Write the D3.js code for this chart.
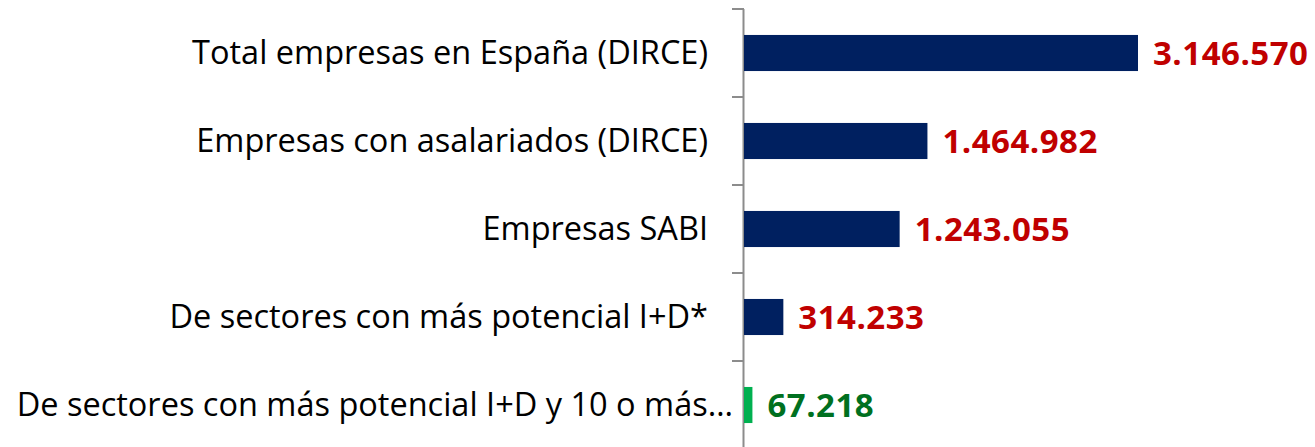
<!DOCTYPE html>
<html>
<head>
<meta charset="utf-8">
<script src="https://cdn.jsdelivr.net/npm/d3@7"></script>
<style>
  html, body { margin: 0; padding: 0; background: #fff; }
  svg { display: block; }
</style>
</head>
<body>
<div id="chart"></div>
<script>
// Datos
const categories = [
    'Total empresas en España (DIRCE)',
    'Empresas con asalariados (DIRCE)',
    'Empresas SABI',
    'De sectores con más potencial I+D*',
    'De sectores con más potencial I+D y 10 o más…'
];
const values      = [3146570, 1464982, 1243055, 314233, 67218];
const valueLabels = ['3.146.570', '1.464.982', '1.243.055', '314.233', '67.218'];
const highlight   = [false, false, false, false, true];

const W = 1315, H = 447;
const axisX = 744;

const svg = d3.select('#chart').append('svg')
    .attr('width', W)
    .attr('height', H)
    .style('font-family', '"Open Sans", sans-serif');

// escalas
const y = d3.scaleBand()
    .domain(categories)
    .range([9, 449])
    .paddingInner(0.59)
    .paddingOuter(0.295);

const x = d3.scaleLinear()
    .domain([0, 3500000])
    .range([axisX, axisX + 3500000 * (394 / 3146570)]);

// ticks entre categorías
const step = y.step();
const tickYs = d3.range(categories.length + 1).map(i => y.range()[0] + i * step);

svg.append('line')
    .attr('x1', axisX - 0.5).attr('x2', axisX - 0.5)
    .attr('y1', tickYs[0]).attr('y2', H)
    .attr('stroke', '#8c8c8c')
    .attr('stroke-width', 2);

svg.selectAll('line.tick')
    .data(tickYs)
    .join('line')
    .attr('class', 'tick')
    .attr('x1', axisX - 12).attr('x2', axisX)
    .attr('y1', d => d).attr('y2', d => d)
    .attr('stroke', '#8c8c8c')
    .attr('stroke-width', 2);

// barras
svg.selectAll('rect.bar')
    .data(categories)
    .join('rect')
    .attr('class', 'bar')
    .attr('x', axisX)
    .attr('y', d => y(d))
    .attr('width', (d, i) => x(values[i]) - axisX)
    .attr('height', y.bandwidth())
    .attr('fill', (d, i) => highlight[i] ? '#00b050' : '#002060');

// etiquetas de categoría
svg.selectAll('text.cat')
    .data(categories)
    .join('text')
    .attr('class', 'cat')
    .attr('x', d => d.endsWith('…') ? axisX - 11 : axisX - 36)
    .attr('y', d => y(d) + y.bandwidth() / 2)
    .attr('dy', '0.35em')
    .attr('text-anchor', 'end')
    .attr('font-size', 32.5)
    .attr('fill', '#000')
    .text(d => d);

// etiquetas de valor
svg.selectAll('text.val')
    .data(categories)
    .join('text')
    .attr('class', 'val')
    .attr('x', (d, i) => x(values[i]) + 15)
    .attr('y', d => y(d) + y.bandwidth() / 2)
    .attr('dy', '0.35em')
    .attr('font-size', 33)
    .attr('letter-spacing', 0.5)
    .attr('font-weight', 'bold')
    .attr('fill', (d, i) => highlight[i] ? '#007020' : '#c00000')
    .text((d, i) => valueLabels[i]);
</script>
</body>
</html>
